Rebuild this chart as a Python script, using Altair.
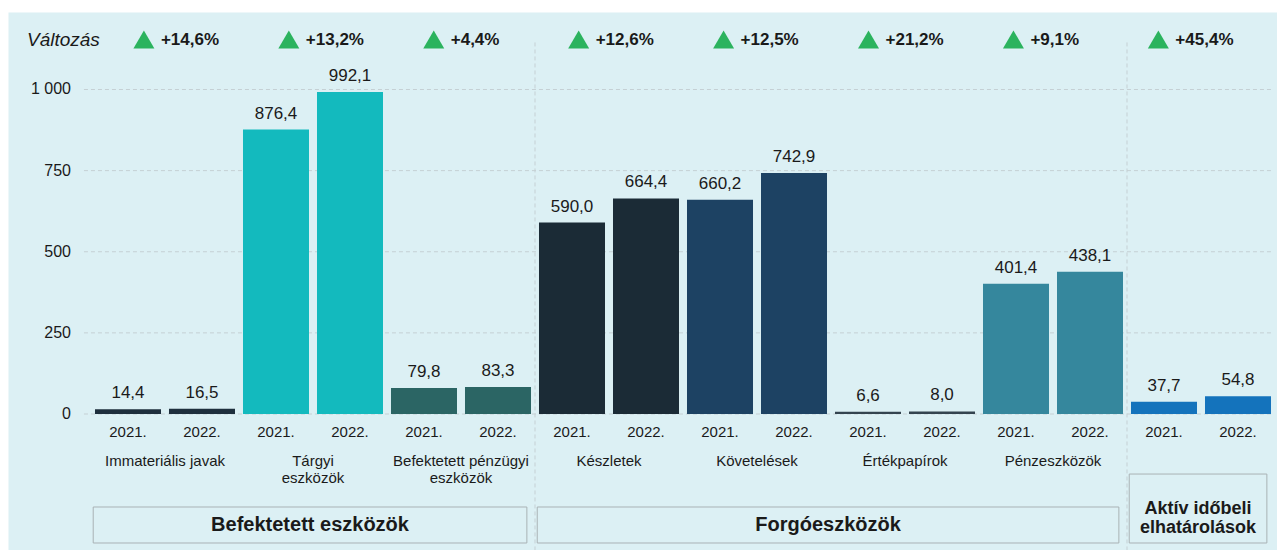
import altair as alt
import pandas as pd

# ---------------- data ----------------
categories = ["Immateriális javak", "Tárgyi eszközök", "Befektetett pénzügyi eszközök",
              "Készletek", "Követelések", "Értékpapírok", "Pénzeszközök",
              "Aktív időbeli elhatárolások"]
category_labels = ["Immateriális javak", "Tárgyi\neszközök", "Befektetett pénzügyi\neszközök",
                   "Készletek", "Követelések", "Értékpapírok", "Pénzeszközök", ""]
years = ["2021.", "2022."]
values_2021 = [14.4, 876.4, 79.8, 590.0, 660.2, 6.6, 401.4, 37.7]
values_2022 = [16.5, 992.1, 83.3, 664.4, 742.9, 8.0, 438.1, 54.8]
changes = ["+14,6%", "+13,2%", "+4,4%", "+12,6%", "+12,5%", "+21,2%", "+9,1%", "+45,4%"]
colors = ["#1e2f3d", "#13babe", "#2b6564", "#1b2b36", "#1d4263", "#34444f", "#35879d", "#1473bc"]
group_names = ["Befektetett eszközök", "Forgóeszközök", "Aktív időbeli\nelhatárolások"]
group_members = [[0, 1, 2], [3, 4, 5, 6], [7]]
y_ticks = [0, 250, 500, 750, 1000]
y_tick_labels = ["0", "250", "500", "750", "1 000"]
change_title = "Változás"

FONT = "Liberation Sans"
TXT = "#1a1a1a"

# ---------------- tables ----------------
bar_rows = []
for c, cat in enumerate(categories):
    for j, (yr, vals) in enumerate(zip(years, [values_2021, values_2022])):
        v = vals[c]
        bar_rows.append({"pos": 2 * c + j, "cat": cat, "year": yr, "value": v,
                         "label": f"{v:.1f}".replace(".", ",")})
bars_df = pd.DataFrame(bar_rows)

cat_df = pd.DataFrame({"c": list(range(len(categories))), "cat": categories,
                       "clabel": category_labels, "change": changes})

tick_df = pd.DataFrame({"v": y_ticks, "t": y_tick_labels})

grp_rows = []
for g, (name, mem) in enumerate(zip(group_names, group_members)):
    grp_rows.append({"name": name, "first": 2 * mem[0], "last": 2 * mem[-1] + 1,
                     "tall": 1 if "\n" in name else 0, "isLast": 1 if g == len(group_names) - 1 else 0})
grp_df = pd.DataFrame(grp_rows)

title_df = pd.DataFrame({"t": [change_title]})

# ---------------- scales ----------------
X = alt.Scale(domain=[-1.6216, 15.527], nice=False, zero=False)
Y = alt.Scale(domain=[-419.1, 1238.8], nice=False, zero=False)
color_scale = alt.Scale(domain=categories, range=colors)

def xq(f):
    return alt.X(f, type="quantitative", scale=X, axis=None)

def yq(f):
    return alt.Y(f, type="quantitative", scale=Y, axis=None)

# grid
grid = alt.Chart(tick_df).transform_calculate(gx0="-0.595", gx1="15.45").mark_rule(
    color="#c5d0d4", strokeDash=[4, 3], strokeWidth=1
).encode(x=xq("gx0"), x2="gx1", y=yq("v"))

# separators between groups
sep = alt.Chart(grp_df).transform_filter("datum.isLast == 0").transform_calculate(
    sx="datum.last + 0.5", sy0="1145", sy1="-419"
).mark_rule(color="#c5d0d4", strokeDash=[4, 3], strokeWidth=1).encode(
    x=xq("sx"), y=yq("sy0"), y2="sy1")

# y tick labels
ylab = alt.Chart(tick_df).transform_calculate(lx="-0.77").mark_text(
    align="right", baseline="middle", font=FONT, fontSize=16, color=TXT
).encode(x=xq("lx"), y=yq("v"), text="t:N")

# bars
bars = alt.Chart(bars_df).transform_calculate(
    bx0="datum.pos - 0.446", bx1="datum.pos + 0.446", b0="0"
).mark_rect().encode(
    x=xq("bx0"), x2="bx1", y=yq("value"), y2="b0",
    color=alt.Color("cat:N", scale=color_scale, legend=None))

vlab = alt.Chart(bars_df).mark_text(
    align="center", baseline="alphabetic", dy=-11, font=FONT, fontSize=17, color=TXT
).encode(x=xq("pos"), y=yq("value"), text="label:N")

yr = alt.Chart(bars_df).transform_calculate(yy="-55.7").mark_text(
    align="center", baseline="middle", font=FONT, fontSize=15, color=TXT
).encode(x=xq("pos"), y=yq("yy"), text="year:N")

# category labels
clab = alt.Chart(cat_df).transform_calculate(cx="2 * datum.c + 0.5", cy="-123.5").mark_text(
    align="center", baseline="top", font=FONT, fontSize=15, color=TXT, lineBreak="\n", lineHeight=17
).encode(x=xq("cx"), y=yq("cy"), text="clabel:N")

# change row (markers sit slightly right of the first bar, drifting left across the row)
CHG_X = "2 * datum.c * 0.9792 + 0.215"
tri = alt.Chart(cat_df).transform_calculate(tx=CHG_X, ty="1154").mark_point(
    shape="triangle-up", filled=True, size=441, color="#2bb35e", opacity=1, strokeWidth=0
).encode(x=xq("tx"), y=yq("ty"))

chg = alt.Chart(cat_df).transform_calculate(tx=CHG_X, ty="1154").mark_text(
    align="left", baseline="middle", dx=17, font=FONT, fontSize=17, fontWeight="bold", color=TXT
).encode(x=xq("tx"), y=yq("ty"), text="change:N")

ttl = alt.Chart(title_df).transform_calculate(tx="-1.365", ty="1151").mark_text(
    align="left", baseline="middle", font=FONT, fontSize=19, fontStyle="italic", color=TXT
).encode(x=xq("tx"), y=yq("ty"), text="t:N")

# group boxes
box = alt.Chart(grp_df).transform_calculate(
    gx0="datum.first - 0.47", gx1="datum.last + 0.39",
    gy0="datum.tall == 1 ? -185 : -286.6", gy1="-397.5"
).mark_rect(fill="#dcf0f4", fillOpacity=0, stroke="#a9b2b5", strokeWidth=1).encode(
    x=xq("gx0"), x2="gx1", y=yq("gy0"), y2="gy1")

glab = alt.Chart(grp_df).transform_calculate(
    gx="(datum.first - 0.47 + datum.last + 0.39) / 2",
    gy="datum.tall == 1 ? -292 : -342"
).mark_text(align="center", baseline="middle", font=FONT, fontWeight="bold",
            color=TXT, lineBreak="\n", lineHeight=19).encode(
    x=xq("gx"), y=yq("gy"), text="name:N",
    size=alt.condition("datum.tall == 1", alt.value(18), alt.value(20)))

chart = alt.layer(grid, sep, bars, vlab, yr, clab, ylab, tri, chg, ttl, box, glab).properties(
    width=1269, height=538,
    autosize=alt.AutoSizeParams(type="none"),
    padding={"left": 0, "top": 4, "right": 0, "bottom": 0},
).configure(background="white").configure_view(fill="#dcf0f4", stroke="transparent")

chart.save("out.html", embed_options={"renderer": "svg", "actions": False})
